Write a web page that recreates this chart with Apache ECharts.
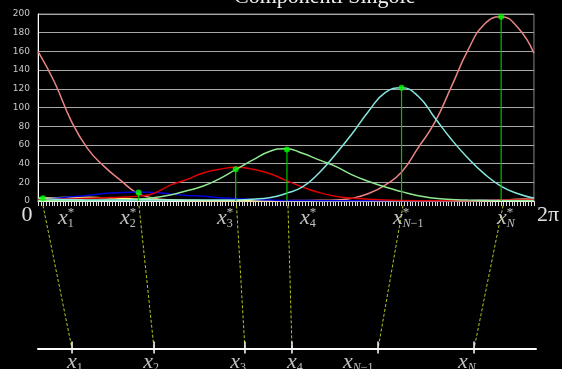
<!DOCTYPE html>
<html><head><meta charset="utf-8">
<script src="https://cdn.jsdelivr.net/npm/echarts@6/dist/echarts.min.js"></script>
<style>html,body{margin:0;padding:0;background:#000;}#c{width:562px;height:369px;}</style>
</head><body><div id="c"></div>
<script>
// x sample positions in degrees (0 .. 360 = 0 .. 2π)
const xDeg = [0,12,24,36,48,60,72,84,96,108,120,132,144,156,168,180,192,204,216,228,240,252,264,276,288,300,312,324,336,348,360];
const pinkVals  = [160,127,86,56,37,22,8.5,3,1.2,0.6,0.4,0.3,0.3,0.3,0.3,0.4,0.5,0.7,1.2,3,8,17,31,57,84,122,161,189,197,186,158];
const cyanVals  = [3,2,1.5,1.2,1,1,1,1,1,1,1,1,1.2,2,3.5,8,15,30,50,72,96,116,121,112,89,66,46,29,16,8,3];
const greenVals = [0.5,0.5,0.5,0.5,0.7,1,2,3.5,6.5,11,16,24,34,44,53,56,51,44,37,28,21,15,10,5.5,3,1.5,1,0.7,0.5,0.5,0.5];
const redVals   = [2,2,2.5,3,3.5,4,5,8,17,23,30,34,36,34,29.5,22,15,9,5,3,2,1,0.5,0.3,0.3,0.3,0.3,0.5,1,1.5,2];
const blueVals  = [2,3,4.5,6,8,9,9.5,9,7.5,6,5,3.5,2.5,1.5,1,0.6,0.5,0.4,0.4,0.4,0.4,0.4,0.4,0.4,0.4,0.4,0.5,0.7,1,1.5,2];
const yellowVals= [3,3.5,4,4,3.5,3,2,1.5,1,0.6,0.4,0.3,0.3,0.3,0.3,0.3,0.3,0.3,0.3,0.3,0.3,0.3,0.3,0.3,0.3,0.3,0.4,0.6,1,1.8,3];

// peak points x*_i
const starX = [3.6,73,143.5,180.7,263.9,336.2];
const starY = [3,9,34,55,121,197];
// mapped points x_i on the lower line
const bottomX = [24.6,83.9,149.6,183.6,245.8,315.2];
// labels
const subs = ['1','2','3','4','N-1','N'];
const starLabelX = [14.5,59.3,129.4,189.4,256.6,331.8];
const bottomLabelX = [21,76,139,180,220.5,303.6];
const yTicks = [0,20,40,60,80,100,120,140,160,180,200];

const chart = echarts.init(document.getElementById('c'));

const curves = [
  {c:'#e88484', v:pinkVals},
  {c:'#ffff80', v:yellowVals},
  {c:'#0000dd', v:blueVals},
  {c:'#dd0000', v:redVals},
  {c:'#90e890', v:greenVals},
  {c:'#86e6e0', v:cyanVals}
];

function subRich(s){
  if (s.indexOf('N') === 0) {
    const rest = s.slice(1).replace('-', '\u2212');
    return '{si|N}' + (rest ? '{s|' + rest + '}' : '');
  }
  return '{s|' + s + '}';
}
const richBase = {
  x:  {fontFamily:'Liberation Serif', fontStyle:'italic', fontSize:22, color:'#eeeeee', lineHeight:24},
  xh: {fontFamily:'Liberation Serif', fontStyle:'italic', fontSize:22, color:'rgba(0,0,0,0)', lineHeight:24},
  s:  {fontFamily:'Liberation Serif', fontSize:12, color:'#eeeeee', verticalAlign:'bottom', lineHeight:12},
  si: {fontFamily:'Liberation Serif', fontStyle:'italic', fontSize:12, color:'#eeeeee', verticalAlign:'bottom', lineHeight:12},
  p:  {fontFamily:'Liberation Serif', fontSize:13, color:'#eeeeee', verticalAlign:'top', lineHeight:12}
};

const series = [];
curves.forEach(cv => {
  series.push({
    type:'line', xAxisIndex:0, yAxisIndex:0, showSymbol:false, smooth:0.5,
    data: xDeg.map((x,i)=>[x, cv.v[i]]),
    lineStyle:{color:cv.c, width:1.5}, itemStyle:{color:cv.c}, z:3
  });
});
starX.forEach((x,i) => {
  series.push({
    type:'line', xAxisIndex:0, yAxisIndex:0, showSymbol:false,
    data:[[x,0],[x,starY[i]]], lineStyle:{color:'#00c000', width:1.2}, z:4
  });
});
series.push({
  type:'scatter', xAxisIndex:0, yAxisIndex:0, symbolSize:6,
  data: starX.map((x,i)=>[x, starY[i]]), itemStyle:{color:'#00ff00'}, z:6
});
// lower diagram
starX.forEach((x,i) => {
  series.push({
    type:'line', xAxisIndex:1, yAxisIndex:1, showSymbol:false,
    data:[[x,0.97],[bottomX[i],0]], lineStyle:{color:'#b8c41c', width:1, type:[3,2]}, z:3
  });
  series.push({
    type:'line', xAxisIndex:1, yAxisIndex:1, showSymbol:false,
    data:[[bottomX[i],-0.03],[bottomX[i],0.05]], lineStyle:{color:'#ffffff', width:1.5}, z:4
  });
});
series.push({
  type:'scatter', xAxisIndex:1, yAxisIndex:1, symbolSize:0, clip:false,
  data: starLabelX.map((x,i)=>({value:[x,0.885], sub:subs[i]})),
  label:{show:true, position:[0,0], align:'left', verticalAlign:'middle',
    formatter: p => '{x|x}' + subRich(p.data.sub), rich:richBase}, z:5
});
series.push({
  type:'scatter', xAxisIndex:1, yAxisIndex:1, symbolSize:0, clip:false,
  data: starLabelX.map((x,i)=>({value:[x,0.885]})),
  label:{show:true, position:[0,0], align:'left', verticalAlign:'middle',
    formatter: () => '{xh|x}{p|*}', rich:richBase}, z:5
});
series.push({
  type:'scatter', xAxisIndex:1, yAxisIndex:1, symbolSize:0, clip:false,
  data: bottomLabelX.map((x,i)=>({value:[x,-0.088], sub:subs[i]})),
  label:{show:true, position:[0,0], align:'left', verticalAlign:'middle',
    formatter: p => '{x|x}' + subRich(p.data.sub), rich:richBase}, z:5
});

chart.setOption({
  backgroundColor:'#000000',
  animation:false,
  title:{text:'Componenti Singole', left:229, top:-19,
    textStyle:{color:'#f0f0f0', fontFamily:'Liberation Serif', fontSize:22, fontWeight:'normal'}},
  grid:[
    {left:38, right:26, top:14, bottom:168, show:true, borderColor:'#8a8a8a', borderWidth:1, backgroundColor:'transparent'},
    {left:38, right:26, top:201, bottom:5.2}
  ],
  xAxis:[
    {type:'value', gridIndex:0, min:0, max:360, interval:2,
      axisLine:{show:true, onZero:true, lineStyle:{color:'#ffffff', width:1}},
      axisTick:{show:true, length:5, lineStyle:{color:'#dddddd', width:1}},
      splitLine:{show:false},
      axisLabel:{show:true, margin:3, showMinLabel:true, showMaxLabel:true,
        formatter: v => v===0 ? '{a|0}' : (v===360 ? '{b|2π}' : ''),
        rich:{
          a:{fontFamily:'Liberation Serif', fontSize:22, color:'#e0e0e0', padding:[0,22,0,0]},
          b:{fontFamily:'Liberation Serif', fontSize:22, color:'#e0e0e0', padding:[0,0,0,28]}
        }}
    },
    {type:'value', gridIndex:1, min:0, max:360,
      axisLine:{show:true, onZero:true, lineStyle:{color:'#ffffff', width:2}},
      axisTick:{show:false}, axisLabel:{show:false}, splitLine:{show:false}}
  ],
  yAxis:[
    {type:'value', gridIndex:0, min:0, max:200, interval:20,
      axisLine:{show:true, lineStyle:{color:'#ffffff', width:1}},
      axisTick:{show:false},
      axisLabel:{color:'#c8c8c8', fontFamily:'DejaVu Sans', fontSize:9, margin:8,
        formatter: v => yTicks.indexOf(v) >= 0 ? String(v) : ''},
      splitLine:{show:true, lineStyle:{color:'#a8a8a8', width:1}}},
    {type:'value', gridIndex:1, min:-0.1, max:1, show:false,
      axisLine:{show:false}, splitLine:{show:false}}
  ],
  series: series
});
</script></body></html>
